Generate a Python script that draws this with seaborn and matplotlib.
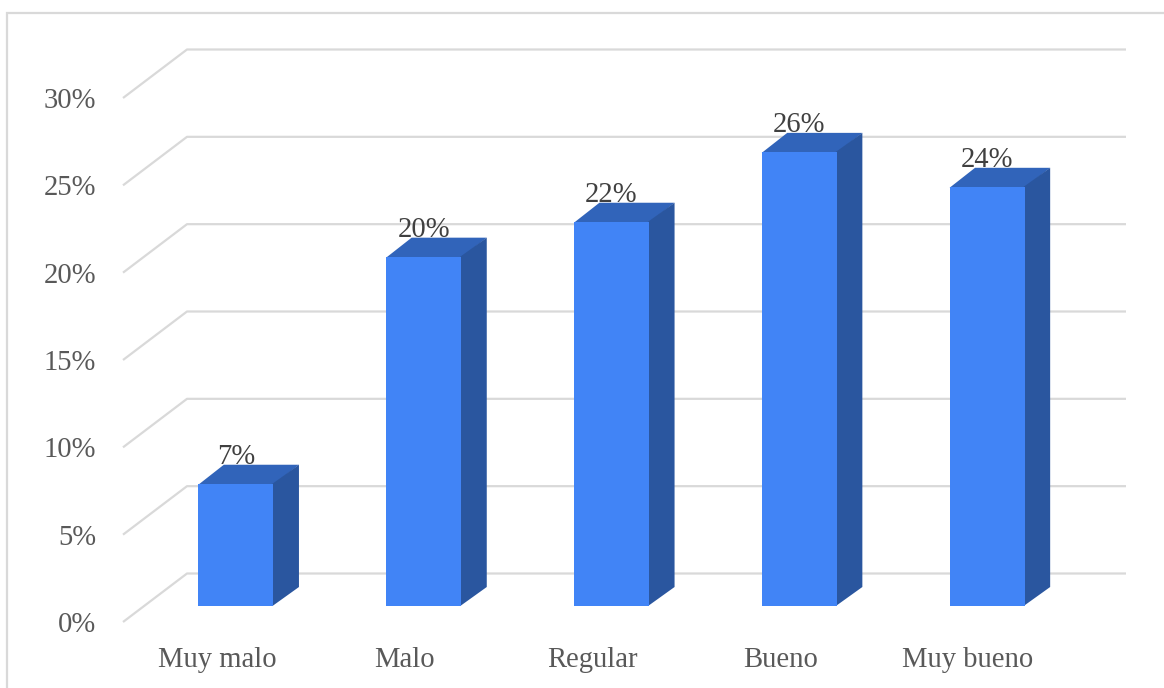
import matplotlib
matplotlib.use("Agg")
import matplotlib.pyplot as plt
from matplotlib.patches import Rectangle
from matplotlib.transforms import ScaledTranslation
import pandas as pd
import seaborn as sns

categories = ["Muy malo", "Malo", "Regular", "Bueno", "Muy bueno"]
percentages = [7, 20, 22, 26, 24]
y_ticks = [0, 5, 10, 15, 20, 25, 30]

WIDTH, HEIGHT, DPI = 1164, 688, 100
FRONT, SIDE, TOP = "#4184F6", "#2A569F", "#3164BA"
GRID, TEXT, LABEL = "#D9D9D9", "#595959", "#404040"
FONT_SIZE = 20.6

sns.set_theme(style="white")
plt.rcParams["font.family"] = ["Liberation Serif", "DejaVu Serif"]

fig = plt.figure(figsize=(WIDTH / DPI, HEIGHT / DPI), dpi=DPI, facecolor="white")


def px_box(x0, y0, x1, y1):
    """Figure-fraction box from pixel edges measured from the top left."""
    return [x0 / WIDTH, 1 - y1 / HEIGHT, (x1 - x0) / WIDTH, (y1 - y0) / HEIGHT]


def shift(dx, dy):
    """Pixel offset (y down) as a transform."""
    return ScaledTranslation(dx / DPI, -dy / DPI, fig.dpi_scale_trans)


# Chart frame, running off the right and bottom edges
fig.add_artist(Rectangle((7 / WIDTH, -0.1), 1.2, 1.1 - 13 / HEIGHT, transform=fig.transFigure,
                         fill=False, edgecolor=GRID, linewidth=1.6))

ax = fig.add_axes(px_box(142, 82, 1081, 606))
frame = pd.DataFrame({"categoria": categories, "porcentaje": percentages})
sns.barplot(data=frame, x="categoria", y="porcentaje", color=FRONT, saturation=1,
            width=0.4, linewidth=0, ax=ax, zorder=3)
ax.set_xlim(-0.5, 4.5)
ax.set_ylim(0, 30)
ax.set_xlabel("")
ax.set_ylabel("")
ax.patch.set_visible(False)
sns.despine(ax=ax, left=True, bottom=True)

# Depth of the extruded bars, in data units
y_scale = 524 / 30
x_scale = 187.8
depth_x, depth_y = 25.5 / x_scale, 19 / y_scale
seam_x, seam_y = 1 / x_scale, 1 / y_scale

# Back wall lines with their slanted run along the side wall
grid_trans = ax.get_yaxis_transform()
for tick in y_ticks:
    xs = [(x - 142) / 939 for x in (123, 187, 1126)]
    ys = [tick - 16 / y_scale, tick + 32.5 / y_scale, tick + 32.5 / y_scale]
    ax.plot(xs, ys, color=GRID, linewidth=1.6, transform=grid_trans, clip_on=False,
            zorder=1, solid_capstyle="butt")

# Top and side faces sit just under the front face so no seam shows
for bar, value in zip(ax.patches, percentages):
    x0, x1 = bar.get_x(), bar.get_x() + bar.get_width()
    ax.fill([x0, x0 + depth_x, x1 + depth_x, x1],
            [value - seam_y, value + depth_y, value + depth_y, value - seam_y],
            color=TOP, linewidth=0, clip_on=False, zorder=2.8)
    ax.fill([x1 - seam_x, x1 + depth_x, x1 + depth_x, x1 - seam_x],
            [0, depth_y, value + depth_y, value],
            color=SIDE, linewidth=0, clip_on=False, zorder=2.9)
    ax.annotate(f"{value}%", (bar.get_x() + bar.get_width() / 2, value),
                xytext=(0, 27 * 72 / DPI), textcoords="offset points",
                ha="center", va="center", color=LABEL, fontsize=FONT_SIZE, zorder=4)

ax.set_yticks(y_ticks, [f"{t}%" for t in y_ticks])
ax.tick_params(axis="y", length=0, pad=46 * 72 / DPI, labelsize=FONT_SIZE, labelcolor=TEXT)
ax.tick_params(axis="x", length=0, pad=41 * 72 / DPI, labelsize=FONT_SIZE, labelcolor=TEXT)
for label in ax.get_yticklabels():
    label.set_transform(label.get_transform() + shift(0, 16))
for label in ax.get_xticklabels():
    label.set_transform(label.get_transform() + shift(-19, 0))

fig.savefig("out.png", dpi=DPI)
